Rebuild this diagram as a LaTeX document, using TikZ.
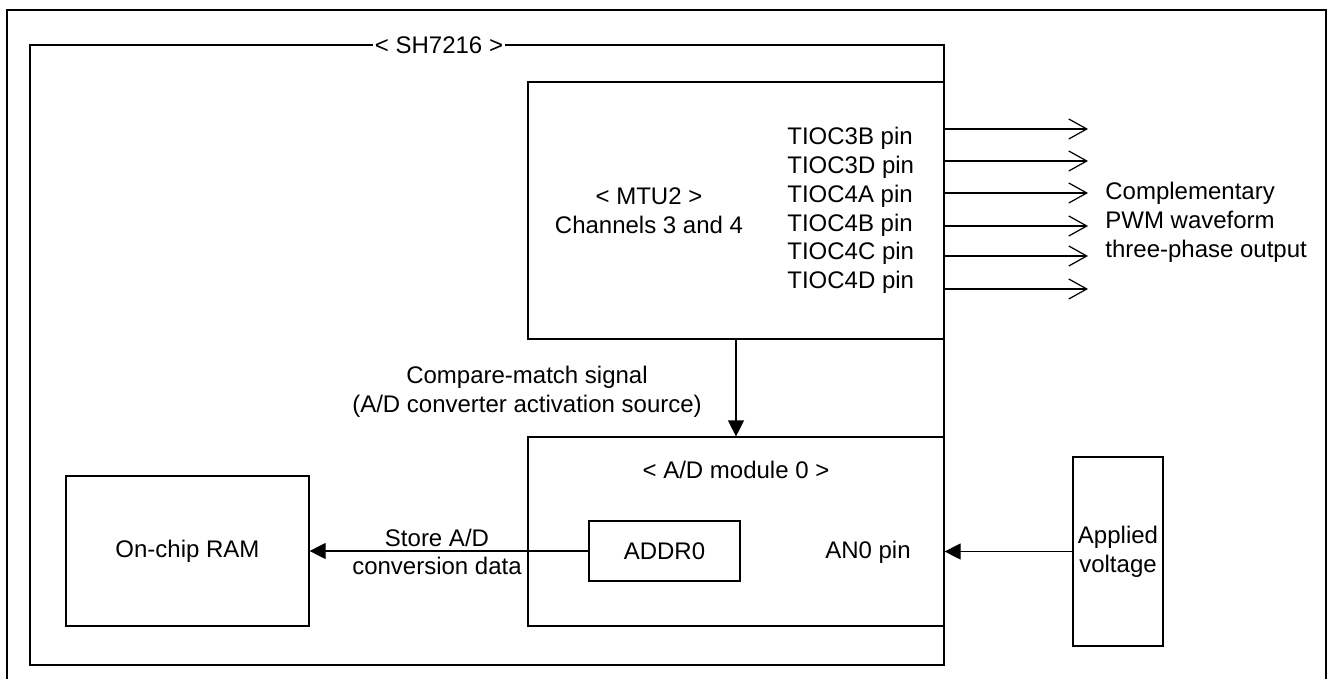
\documentclass[tikz,border=0pt]{standalone}
\usepackage{fontspec}
\setmainfont{Liberation Sans}
\usetikzlibrary{arrows.meta,calc}
\begin{document}
\begin{tikzpicture}[x=0.5pt,y=-0.5pt,
  font=\fontsize{12pt}{14.4pt}\selectfont,
  box/.style={draw,line width=0.6pt,inner sep=0pt,align=center},
  lbl/.style={inner sep=0pt,align=center},
  sig/.style={line width=0.6pt,-{Triangle[length=8pt,width=8pt]}},
  outarr/.style={line width=0.6pt,-{Straight Barb[length=9pt,width=10pt,line width=0.6pt]}}]
\useasboundingbox (0,0) rectangle (1328,679);
% outer frame
\draw[line width=1.3pt] (7,690) -- (7,10) -- (1326,10) -- (1326,690);
% chip
\node[box,minimum width=457pt,minimum height=310pt] (chip) at (487,355) {};
\node[lbl,fill=white,inner xsep=1pt] (chipl) at (439,45) {< SH7216 >};
% MTU2
\node[box,minimum width=208pt,minimum height=128.5pt] (mtu) at (736,210.5) {};
\node[lbl] (mtul) at (649,211) {< MTU2 >\\Channels 3 and 4};
\foreach \t/\y [count=\i] in {TIOC3B/138,TIOC3D/167,TIOC4A/196,TIOC4B/225,TIOC4C/253,TIOC4D/282}
  \node[lbl,anchor=west] (p\i) at (787,\y) {\t{} pin};
\foreach \y [count=\i] in {129,161,193,226,256,289}{
  \coordinate (o\i) at (1088,\y);
  \draw[outarr] (mtu.east |- o\i) -- (o\i);
}
\node[lbl,anchor=west,align=left] (comp) at (1105,222) {Complementary\\PWM waveform\\three-phase output};
% A/D
\node[box,minimum width=208pt,minimum height=94.5pt] (ad) at (736,531.5) {};
\node[lbl] (adl) at (736,470) {< A/D module 0 >};
\draw[sig] (mtu.south) -- (ad.north);
\node[lbl] (cml) at (527,392) {Compare-match signal\\(A/D converter activation source)};
\node[box,minimum width=75.5pt,minimum height=30pt] (addr) at (664.5,551) {ADDR0};
\node[lbl] (an0) at (868,552) {AN0 pin};
% RAM
\node[box,minimum width=121.5pt,minimum height=75pt] (ram) at (187.5,551) {On-chip RAM};
\draw[sig] (addr.west) -- (ram.east);
\node[lbl] (stl) at (437,552) {Store A/D\\conversion data};
% Applied voltage
\node[box,minimum width=45pt,minimum height=94.5pt] (app) at (1118,551.5) {Applied\\voltage};
\draw[sig] (app.west) -- (app.west -| ad.east);
\end{tikzpicture}
\end{document}
